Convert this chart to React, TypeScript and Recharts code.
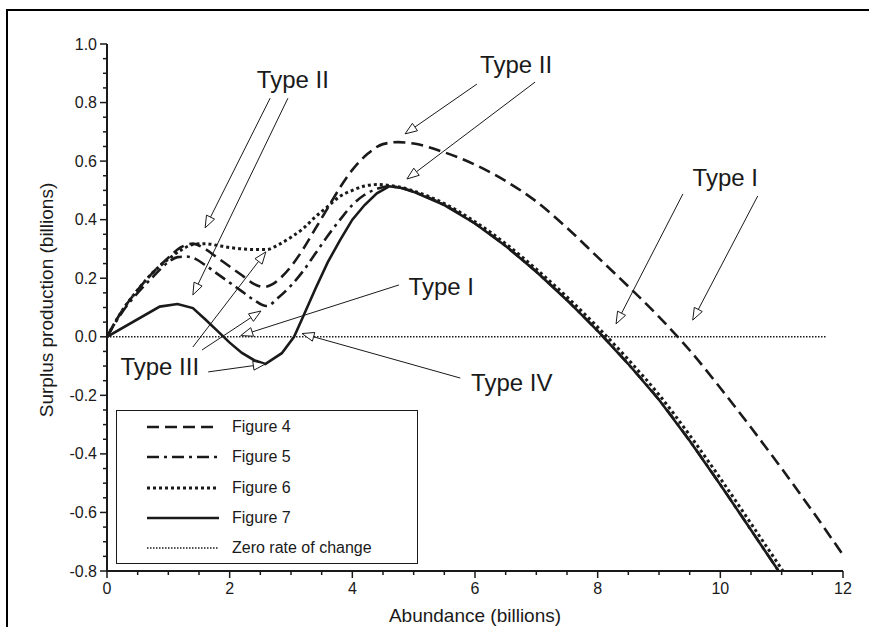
import React from 'react'
import { LineChart, Line, XAxis, YAxis, Legend, ReferenceLine, ReferenceDot } from 'recharts'

const FONT = '"Liberation Sans", Arial, Helvetica, sans-serif'
const INK = '#1a1a1a'

// Figure 4 (dashed)
const fig4X = [0, 0.25, 0.5, 0.75, 1.0, 1.2, 1.4, 1.6, 1.8, 2.0, 2.2, 2.4, 2.55, 2.7, 2.85, 3.0, 3.2, 3.4, 3.6, 3.8, 4.0, 4.25, 4.5, 4.75, 5.0, 5.5, 6.0, 6.5, 7.0, 7.5, 8.0, 8.5, 9.0, 9.5, 10.0, 10.5, 11.0, 11.5, 12.0]
const fig4Y = [0, 0.09, 0.16, 0.22, 0.27, 0.305, 0.318, 0.3, 0.27, 0.24, 0.21, 0.18, 0.17, 0.18, 0.205, 0.24, 0.3, 0.37, 0.44, 0.51, 0.57, 0.625, 0.658, 0.665, 0.66, 0.63, 0.588, 0.532, 0.462, 0.372, 0.272, 0.172, 0.068, -0.046, -0.175, -0.31, -0.45, -0.595, -0.745]

// Figure 5 (dash-dot)
const fig5X = [0, 0.25, 0.5, 0.75, 1.0, 1.15, 1.3, 1.45, 1.6, 1.8, 2.0, 2.2, 2.4, 2.6, 2.8, 3.0, 3.2, 3.4, 3.6, 3.8, 4.0, 4.2, 4.4, 4.6, 4.8, 5.0, 5.5, 6.0, 6.5, 7.0, 7.5, 8.0, 8.5, 9.0, 9.5, 10.0, 10.5, 10.95]
const fig5Y = [0, 0.085, 0.15, 0.205, 0.255, 0.272, 0.274, 0.265, 0.245, 0.215, 0.185, 0.155, 0.125, 0.105, 0.135, 0.175, 0.225, 0.285, 0.345, 0.4, 0.45, 0.485, 0.505, 0.514, 0.508, 0.495, 0.45, 0.387, 0.31, 0.222, 0.125, 0.02, -0.093, -0.215, -0.355, -0.505, -0.66, -0.8]

// Figure 6 (dotted)
const fig6X = [0, 0.25, 0.5, 0.75, 1.0, 1.2, 1.4, 1.6, 1.8, 2.0, 2.2, 2.4, 2.6, 2.8, 3.0, 3.2, 3.4, 3.6, 3.8, 4.0, 4.2, 4.4, 4.6, 4.8, 5.0, 5.5, 6.0, 6.5, 7.0, 7.5, 8.0, 8.5, 9.0, 9.5, 10.0, 10.5, 11.02]
const fig6Y = [0, 0.09, 0.16, 0.22, 0.265, 0.295, 0.315, 0.318, 0.312, 0.305, 0.3, 0.298, 0.298, 0.315, 0.34, 0.37, 0.41, 0.445, 0.48, 0.5, 0.515, 0.52, 0.517, 0.51, 0.498, 0.455, 0.393, 0.318, 0.231, 0.136, 0.033, -0.078, -0.198, -0.336, -0.484, -0.638, -0.8]

// Figure 7 (solid)
const fig7X = [0, 0.86, 1.15, 1.4, 1.6, 1.8, 2.0, 2.2, 2.4, 2.58, 2.85, 3.05, 3.2, 3.4, 3.6, 3.8, 4.0, 4.2, 4.4, 4.6, 4.8, 5.0, 5.5, 6.0, 6.5, 7.0, 7.5, 8.0, 8.5, 9.0, 9.5, 10.0, 10.5, 10.95]
const fig7Y = [0, 0.103, 0.112, 0.098, 0.06, 0.02, -0.02, -0.055, -0.08, -0.093, -0.056, 0.0, 0.07, 0.165, 0.255, 0.33, 0.4, 0.45, 0.49, 0.514, 0.508, 0.495, 0.45, 0.387, 0.31, 0.222, 0.125, 0.02, -0.093, -0.215, -0.355, -0.505, -0.66, -0.8]

// zero rate of change
const zeroX = [0, 11.72]
const zeroY = [0, 0]

const xTicks = [0, 0.5, 1, 1.5, 2, 2.5, 3, 3.5, 4, 4.5, 5, 5.5, 6, 6.5, 7, 7.5, 8, 8.5, 9, 9.5, 10, 10.5, 11, 11.5, 12]
const yTicks = [-0.8, -0.75, -0.7, -0.65, -0.6, -0.55, -0.5, -0.45, -0.4, -0.35, -0.3, -0.25, -0.2, -0.15, -0.1, -0.05, 0, 0.05, 0.1, 0.15, 0.2, 0.25, 0.3, 0.35, 0.4, 0.45, 0.5, 0.55, 0.6, 0.65, 0.7, 0.75, 0.8, 0.85, 0.9, 0.95, 1.0]

// annotation arrows (tail -> tip), in data units
const arrowTails = [[2.66, 0.815], [2.95, 0.815], [6.03, 0.863], [6.98, 0.87], [9.39, 0.488], [10.61, 0.481], [4.76, 0.177], [1.4, -0.035], [1.55, -0.045], [1.65, -0.12], [5.76, -0.141]]
const arrowTips = [[1.6, 0.372], [1.4, 0.143], [4.86, 0.693], [4.89, 0.539], [8.3, 0.044], [9.55, 0.057], [2.18, 0.004], [2.59, 0.29], [2.51, 0.088], [2.58, -0.093], [3.18, 0.011]]

const typeLabels = ['Type II', 'Type II', 'Type I', 'Type I', 'Type III', 'Type IV']
const typeLabelX = [3.03, 6.67, 10.08, 5.45, 0.86, 6.6]
const typeLabelY = [0.877, 0.928, 0.542, 0.17, -0.103, -0.158]

const legendNames = ['Figure 4', 'Figure 5', 'Figure 6', 'Figure 7', 'Zero rate of change']

const toPoints = (xs: number[], ys: number[]) => xs.map((x, i) => ({ x, y: ys[i] }))

const styles = [
  { dash: '12 6', width: 2.6, curve: 'monotone' },
  { dash: '12 5 3 5', width: 2.6, curve: 'monotone' },
  { dash: '3 3', width: 3, curve: 'monotone' },
  { dash: undefined, width: 2.6, curve: 'linear' },
  { dash: '1.5 1.5', width: 1.5, curve: 'linear' },
]

const series = [
  toPoints(fig4X, fig4Y),
  toPoints(fig5X, fig5Y),
  toPoints(fig6X, fig6Y),
  toPoints(fig7X, fig7Y),
]

const XTick = (props: any) => {
  const { x, y, payload } = props
  const v = payload.value
  const major = Math.abs(v / 2 - Math.round(v / 2)) < 1e-6
  return (
    <g>
      <line x1={x} y1={y} x2={x} y2={y + (major ? 7 : 4)} stroke={INK} strokeWidth={1.5} />
      {major && (
        <text x={x} y={y + 23} textAnchor="middle" fontSize={16} fill={INK} fontFamily={FONT}>
          {v}
        </text>
      )}
    </g>
  )
}

const YTick = (props: any) => {
  const { x, y, payload } = props
  const v = payload.value
  const major = Math.abs(v * 5 - Math.round(v * 5)) < 1e-6
  return (
    <g>
      <line x1={x} y1={y} x2={x - (major ? 7 : 4)} y2={y} stroke={INK} strokeWidth={1.5} />
      {major && (
        <text x={x - 10} y={y + 5.5} textAnchor="end" fontSize={16} fill={INK} fontFamily={FONT}>
          {v.toFixed(1)}
        </text>
      )}
    </g>
  )
}

const Arrow = (props: any) => {
  const { x1, y1, x2, y2 } = props
  const len = Math.hypot(x2 - x1, y2 - y1)
  const ux = (x2 - x1) / len
  const uy = (y2 - y1) / len
  const bx = x2 - ux * 12
  const by = y2 - uy * 12
  const nx = -uy * 4.5
  const ny = ux * 4.5
  return (
    <g>
      <line x1={x1} y1={y1} x2={bx} y2={by} stroke={INK} strokeWidth={1} />
      <polygon
        points={`${x2},${y2} ${bx + nx},${by + ny} ${bx - nx},${by - ny}`}
        fill="#fff"
        stroke={INK}
        strokeWidth={1}
      />
    </g>
  )
}

const LegendBox = () => (
  <div
    style={{
      position: 'relative',
      width: 302,
      height: 154,
      boxSizing: 'border-box',
      border: `1px solid ${INK}`,
      background: '#fff',
      fontFamily: FONT,
      fontSize: 16,
      color: INK,
    }}
  >
    {legendNames.map((name, i) => (
      <div
        key={name}
        style={{ position: 'absolute', left: 0, top: 6 + i * 30.3, height: 20, display: 'flex', alignItems: 'center' }}
      >
        <svg width={72} height={8} style={{ marginLeft: 30 }}>
          <line
            x1={0}
            y1={4}
            x2={72}
            y2={4}
            stroke={INK}
            strokeWidth={styles[i].width}
            strokeDasharray={styles[i].dash}
          />
        </svg>
        <span style={{ marginLeft: 13, whiteSpace: 'nowrap' }}>{name}</span>
      </div>
    ))}
  </div>
)

export default function App() {
  return (
    <div style={{ position: 'absolute', left: 0, top: 0, width: 869, height: 627, overflow: 'hidden', background: '#fff' }}>
      <div
        style={{
          position: 'absolute',
          left: 6,
          top: 9,
          width: 900,
          height: 700,
          borderTop: '2px solid #000',
          borderLeft: '2px solid #000',
        }}
      />
      <div style={{ position: 'absolute', left: 0, top: 0 }}>
        <LineChart width={869} height={627} margin={{ top: 44, right: 26, left: 47, bottom: 26 }}>
          <XAxis
            dataKey="x"
            type="number"
            domain={[0, 12]}
            ticks={xTicks}
            interval={0}
            tickSize={0}
            tickMargin={0}
            tickLine={false}
            tick={<XTick />}
            height={30}
            allowDataOverflow
            axisLine={{ stroke: INK, strokeWidth: 2 }}
            label={{
              content: (p: any) => {
                const vb = p.viewBox
                return (
                  <text x={vb.x + vb.width / 2} y={622} textAnchor="middle" fontSize={19} fill={INK} fontFamily={FONT}>
                    Abundance (billions)
                  </text>
                )
              },
            }}
          />
          <XAxis
            xAxisId="top"
            orientation="top"
            type="number"
            domain={[0, 12]}
            height={0}
            tick={false}
            tickLine={false}
            axisLine={{ stroke: INK, strokeWidth: 2 }}
          />
          <YAxis
            type="number"
            domain={[-0.8, 1.0]}
            ticks={yTicks}
            interval={0}
            tickSize={0}
            tickMargin={0}
            tickLine={false}
            tick={<YTick />}
            width={60}
            allowDataOverflow
            axisLine={{ stroke: INK, strokeWidth: 2 }}
            label={{
              content: () => (
                <text x={53} y={300} transform="rotate(-90 53 300)" textAnchor="middle" fontSize={19} fill={INK} fontFamily={FONT}>
                  Surplus production (billions)
                </text>
              ),
            }}
          />
          <YAxis
            yAxisId="right"
            orientation="right"
            type="number"
            domain={[-0.8, 1.0]}
            width={0}
            tick={false}
            tickLine={false}
            axisLine={{ stroke: INK, strokeWidth: 2 }}
          />
          <Legend
            layout="vertical"
            align="center"
            verticalAlign="middle"
            wrapperStyle={{ left: 116, top: 410, width: 302, height: 154 }}
            content={() => <LegendBox />}
          />
          <Line
            data={toPoints(zeroX, zeroY)}
            dataKey="y"
            type="linear"
            stroke={INK}
            strokeWidth={styles[4].width}
            strokeDasharray={styles[4].dash}
            dot={false}
            activeDot={false}
            isAnimationActive={false}
          />
          {series.map((pts, i) => (
            <Line
              key={i}
              data={pts}
              dataKey="y"
              type={styles[i].curve as any}
              stroke={INK}
              strokeWidth={styles[i].width}
              strokeDasharray={styles[i].dash}
              dot={false}
              activeDot={false}
              isAnimationActive={false}
            />
          ))}
          {arrowTails.map((t, i) => (
            <ReferenceLine
              key={'a' + i}
              segment={[
                { x: t[0], y: t[1] },
                { x: arrowTips[i][0], y: arrowTips[i][1] },
              ]}
              shape={(p: any) => <Arrow {...p} />}
            />
          ))}
          {typeLabels.map((txt, i) => (
            <ReferenceDot
              key={'t' + i}
              x={typeLabelX[i]}
              y={typeLabelY[i]}
              r={0}
              shape={(p: any) => (
                <text x={p.cx} y={p.cy + 8} textAnchor="middle" fontSize={24} fill={INK} fontFamily={FONT}>
                  {txt}
                </text>
              )}
            />
          ))}
        </LineChart>
      </div>
    </div>
  )
}
